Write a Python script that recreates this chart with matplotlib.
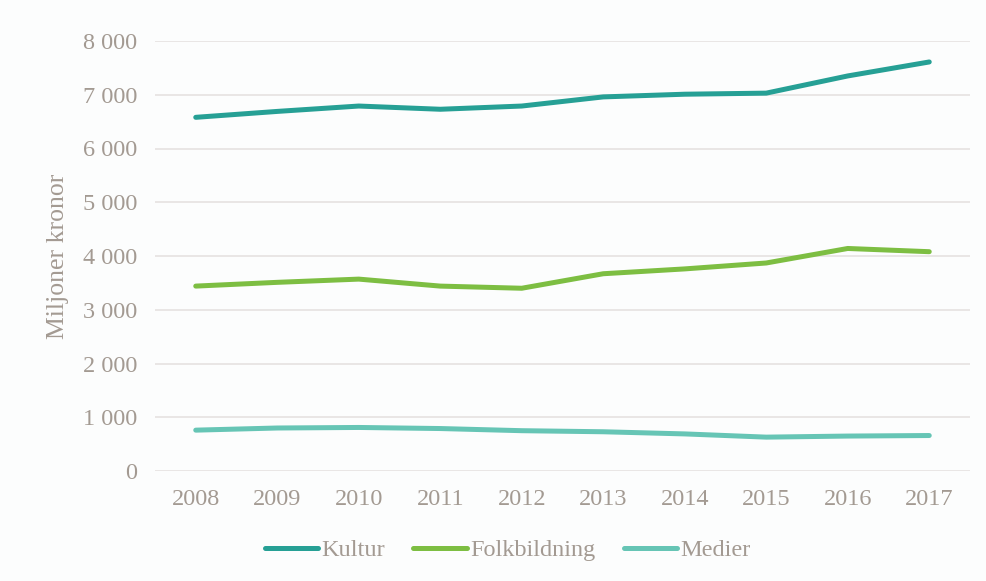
import matplotlib.pyplot as plt
from matplotlib.ticker import FuncFormatter

# Data (miljoner kronor)
years = ["2008", "2009", "2010", "2011", "2012", "2013", "2014", "2015", "2016", "2017"]
kultur = [6580, 6690, 6790, 6730, 6790, 6960, 7010, 7030, 7350, 7610]
folkbildning = [3440, 3510, 3570, 3440, 3400, 3670, 3760, 3870, 4140, 4080]
medier = [760, 800, 810, 790, 750, 730, 690, 630, 650, 660]

text_color = "#A39A92"
plt.rcParams["font.family"] = ["Liberation Serif", "DejaVu Serif"]

fig = plt.figure(figsize=(9.86, 5.81), dpi=100, facecolor="#FCFDFD")
ax = fig.add_axes([155 / 986, 1 - 471 / 581, 815 / 986, 430 / 581])
ax.set_facecolor("#FCFDFD")

x = range(len(years))
ax.plot(x, kultur, color="#26A095", lw=3.6, solid_capstyle="round", label="Kultur")
ax.plot(x, folkbildning, color="#7DBE42", lw=3.6, solid_capstyle="round", label="Folkbildning")
ax.plot(x, medier, color="#66C5B5", lw=3.6, solid_capstyle="round", label="Medier")

ax.set_xlim(-0.5, len(years) - 0.5)
ax.set_ylim(0, 8000)
ax.set_yticks(range(0, 8001, 1000))
ax.yaxis.set_major_formatter(FuncFormatter(lambda v, p: f"{int(v):,}".replace(",", " ")))
ax.set_xticks(list(x))
ax.set_xticklabels(years)

ax.grid(axis="y", color="#E8E4E3", lw=1.3)
ax.set_axisbelow(True)
for s in ax.spines.values():
    s.set_visible(False)
ax.tick_params(length=0, labelsize=17.5, labelcolor=text_color)
ax.tick_params(axis="y", pad=13)
ax.tick_params(axis="x", pad=13)
ax.set_ylabel("Miljoner kronor", fontsize=18.5, color=text_color, labelpad=10)

leg = fig.legend(loc="center", bbox_to_anchor=(0.515, 1 - 550 / 581), ncol=3, frameon=False,
                 fontsize=17.5, handlelength=2.2, handletextpad=0.15, columnspacing=1.15)
for t in leg.get_texts():
    t.set_color(text_color)

fig.savefig("out.png", dpi=100, facecolor=fig.get_facecolor())
